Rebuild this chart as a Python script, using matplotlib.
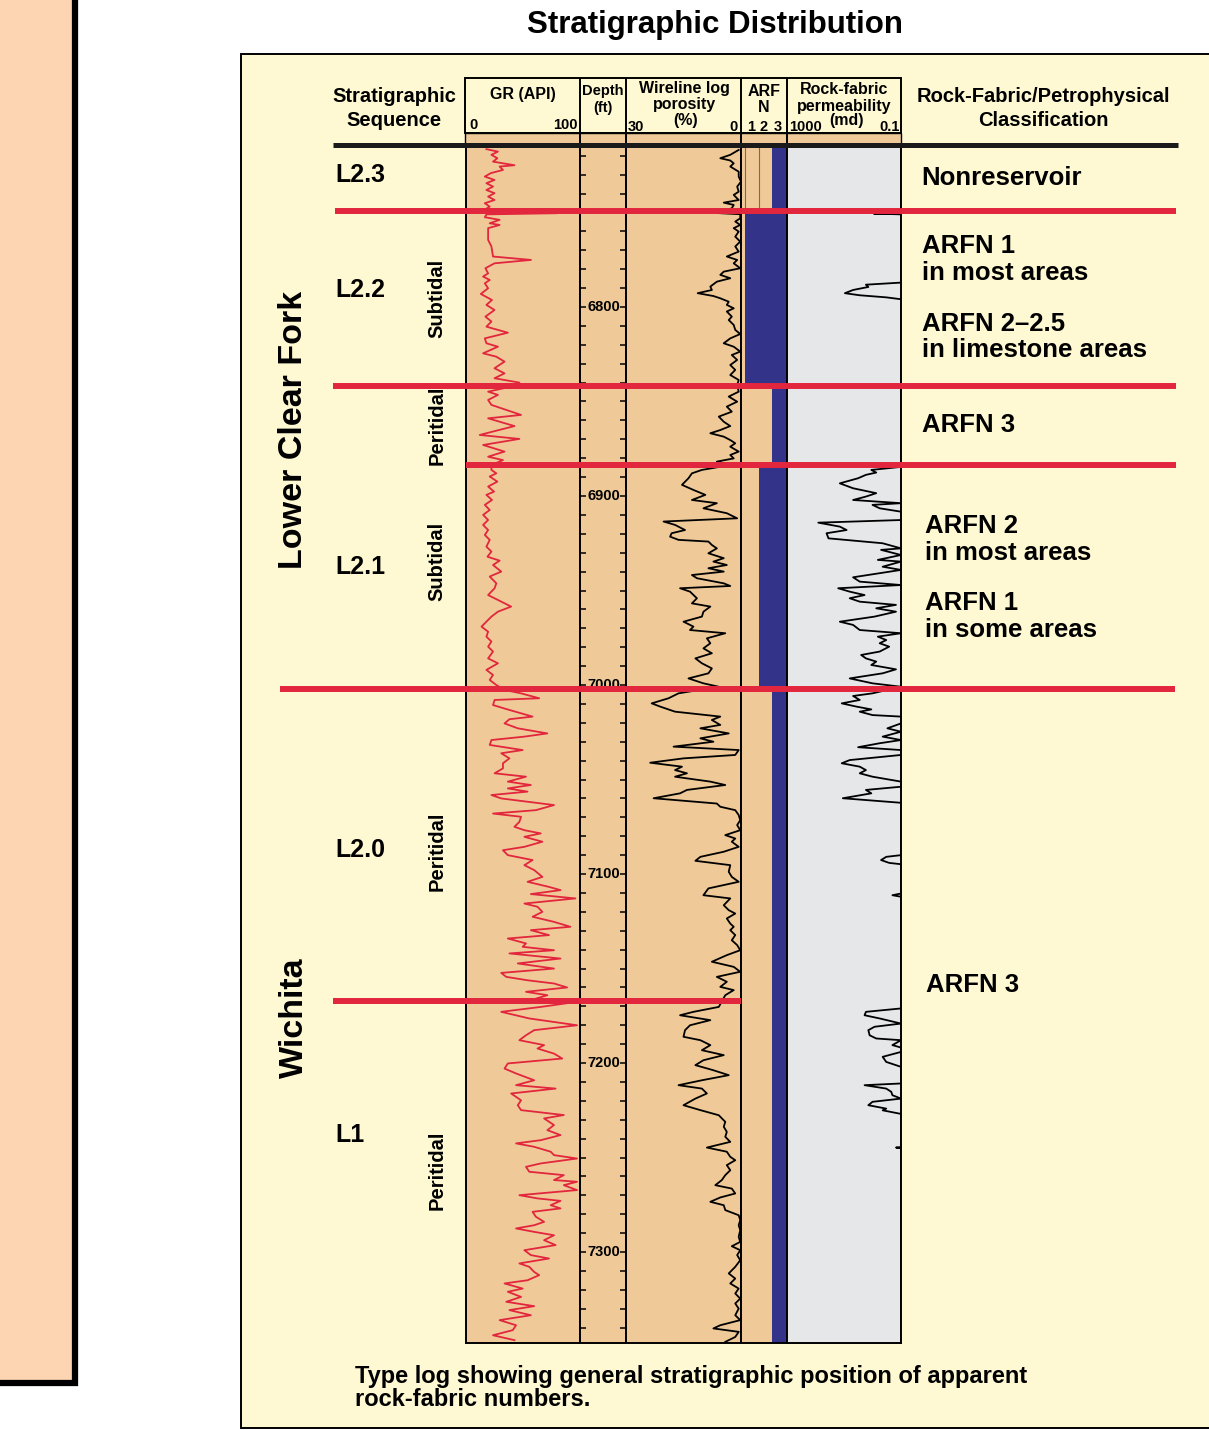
import matplotlib
matplotlib.use('Agg')
import matplotlib.pyplot as plt
from matplotlib.patches import Rectangle
import numpy as np

plt.rcParams['font.family'] = ['Liberation Sans', 'DejaVu Sans']
plt.rcParams['font.weight'] = 'bold'

W, H = 1209, 1430

# log depth window (ft)
log_top, log_base = 6714.3, 7348.1

# sequence boundaries (ft)
boundary_depth = [6749.2, 6841.8, 6883.6, 7002.1, 7167.2]

# apparent rock-fabric number by interval (interval tops, ft)
arfn_top = [6714.3, 6749.2, 6841.8, 6883.6, 7002.1]
arfn_value = [3, 1, 3, 2, 3]

depth_labels = [6800, 6900, 7000, 7100, 7200, 7300]

# gamma ray (API)
gr_depth = [6716.5, 6717.8, 6719.5, 6721.3, 6723.1, 6725.0, 6725.7, 6727.5, 6729.2, 6731.0,
            6732.8, 6734.5, 6736.3, 6738.1, 6739.8, 6741.6, 6743.4, 6745.1, 6746.9, 6748.3,
            6749.6, 6750.4, 6751.0, 6752.5, 6753.9, 6755.7, 6756.6, 6758.3, 6764.5, 6768.0,
            6773.3, 6775.1, 6776.9, 6779.5, 6782.2, 6783.9, 6785.7, 6787.5, 6790.1, 6793.1,
            6796.3, 6798.9, 6801.6, 6805.1, 6807.7, 6810.4, 6813.6, 6816.6, 6819.2, 6821.0,
            6824.5, 6826.3, 6828.9, 6832.4, 6835.1, 6837.7, 6840.0, 6842.1, 6844.8, 6846.5,
            6849.2, 6851.8, 6857.1, 6858.9, 6863.0, 6867.7, 6869.8, 6873.0, 6876.5, 6879.2,
            6881.0, 6883.6, 6886.2, 6888.0, 6889.7, 6892.4, 6895.0, 6897.7, 6899.4, 6902.1,
            6904.7, 6907.4, 6910.0, 6912.7, 6915.3, 6918.0, 6920.6, 6923.2, 6926.8, 6929.4,
            6932.1, 6934.2, 6936.5, 6940.0, 6942.6, 6946.2, 6948.8, 6952.4, 6955.9, 6958.5,
            6961.2, 6963.8, 6966.5, 6969.1, 6971.8, 6974.4, 6977.0, 6979.7, 6982.3, 6985.9,
            6988.5, 6992.0, 6994.7, 6997.3, 7000.0, 7002.6, 7004.4, 7007.0, 7007.9, 7010.6,
            7013.2, 7016.7, 7018.1, 7020.3, 7022.9, 7025.6, 7027.3, 7029.1, 7031.7, 7034.4,
            7036.1, 7038.8, 7041.4, 7044.1, 7046.7, 7048.5, 7051.1, 7052.9, 7054.7, 7056.4,
            7058.2, 7060.0, 7063.5, 7066.2, 7068.0, 7069.7, 7072.4, 7075.0, 7076.8, 7078.5,
            7080.3, 7082.9, 7085.6, 7087.4, 7090.0, 7092.6, 7095.3, 7097.9, 7101.5, 7104.1,
            7106.8, 7108.5, 7110.6, 7112.9, 7115.6, 7117.3, 7120.0, 7122.6, 7125.3, 7127.9,
            7129.7, 7132.3, 7134.1, 7136.7, 7138.5, 7140.3, 7142.0, 7144.7, 7147.3, 7150.0,
            7152.3, 7154.4, 7156.2, 7157.9, 7160.0, 7162.3, 7164.1, 7165.9, 7167.6, 7170.3,
            7172.9, 7176.4, 7180.0, 7182.6, 7185.3, 7187.9, 7190.5, 7192.3, 7195.0, 7197.6,
            7200.2, 7202.9, 7205.5, 7209.1, 7211.7, 7213.5, 7216.1, 7219.7, 7222.3, 7224.9,
            7227.5, 7229.3, 7232.8, 7235.5, 7238.1, 7240.8, 7242.5, 7244.3, 7246.9, 7248.7,
            7250.5, 7253.1, 7254.9, 7257.5, 7259.3, 7261.9, 7262.8, 7264.6, 7267.2, 7269.9,
            7271.6, 7272.9, 7275.2, 7276.9, 7278.7, 7281.3, 7284.0, 7285.8, 7287.5, 7289.3,
            7291.1, 7293.7, 7296.3, 7299.0, 7301.6, 7303.4, 7306.0, 7307.8, 7310.5, 7312.2,
            7314.9, 7316.6, 7319.3, 7321.0, 7323.7, 7326.3, 7328.6, 7330.7, 7333.4, 7336.0,
            7338.7, 7341.3, 7344.0, 7346.6]
gr_api = [17.9, 28.0, 22.3, 27.5, 23.7, 42.5, 29.5, 32.4, 21.7, 16.5,
          25.0, 17.9, 23.7, 17.9, 25.0, 19.4, 25.0, 16.5, 20.8, 17.0,
          17.0, 80.0, 18.0, 16.5, 29.5, 20.8, 29.5, 19.4, 19.4, 22.3,
          23.7, 57.0, 25.0, 17.0, 19.4, 15.0, 20.8, 16.5, 19.4, 13.0,
          22.8, 17.9, 25.0, 17.0, 22.3, 17.9, 36.7, 16.5, 17.9, 28.0,
          15.0, 26.6, 33.8, 25.0, 33.8, 25.0, 46.8, 39.6, 19.4, 28.0,
          19.4, 22.3, 48.3, 19.4, 42.5, 12.0, 46.8, 15.0, 33.8, 19.4,
          32.4, 22.3, 22.3, 26.6, 20.8, 27.5, 19.4, 24.6, 17.9, 22.8,
          16.5, 20.8, 15.0, 19.4, 15.0, 19.4, 16.5, 20.8, 17.9, 22.3,
          18.8, 29.5, 23.7, 30.9, 20.8, 26.6, 25.1, 19.4, 30.9, 39.6,
          28.0, 22.3, 17.9, 13.6, 19.4, 17.9, 22.3, 19.4, 23.7, 19.4,
          28.0, 17.9, 23.7, 20.8, 26.6, 33.8, 48.3, 64.2, 25.1, 23.7,
          38.1, 58.4, 38.1, 33.8, 45.4, 71.4, 51.2, 22.3, 20.8, 49.7,
          30.9, 38.1, 32.4, 32.4, 25.1, 52.6, 36.7, 56.9, 36.7, 54.0,
          22.3, 30.9, 77.2, 61.3, 23.7, 48.3, 46.8, 42.5, 51.2, 65.6,
          51.2, 67.0, 51.2, 32.4, 36.7, 58.4, 51.2, 59.8, 67.0, 54.0,
          72.8, 82.9, 56.9, 96.0, 51.2, 62.7, 67.0, 58.4, 77.2, 91.6,
          56.9, 72.8, 36.7, 52.6, 49.7, 77.2, 38.1, 82.9, 45.4, 77.2,
          30.9, 35.3, 54.0, 77.2, 88.7, 52.6, 71.4, 61.3, 97.4, 65.6,
          30.9, 55.5, 97.4, 59.8, 52.6, 46.8, 68.5, 62.7, 77.2, 84.4,
          36.7, 33.8, 43.9, 59.8, 43.9, 78.6, 39.6, 48.3, 45.4, 48.3,
          85.8, 68.5, 77.2, 71.4, 82.9, 65.6, 43.9, 59.8, 74.3, 77.2,
          97.4, 65.6, 52.6, 55.5, 85.8, 77.2, 97.4, 85.8, 97.4, 46.8,
          62.7, 82.9, 74.3, 82.9, 58.4, 61.3, 68.5, 59.8, 43.9, 59.8,
          77.2, 68.5, 78.6, 51.2, 56.9, 72.8, 46.8, 55.5, 59.8, 64.2,
          54.0, 33.8, 49.7, 36.7, 48.3, 35.3, 59.8, 38.1, 56.9, 29.5,
          43.9, 41.0, 23.7, 42.5]

# wireline log porosity (%)
phi_depth = [6716.9, 6719.5, 6721.3, 6722.5, 6724.0, 6725.7, 6728.4, 6731.0, 6733.7, 6736.3,
             6739.0, 6740.7, 6743.4, 6744.8, 6746.0, 6747.8, 6750.3, 6750.9, 6753.1, 6754.8,
             6756.6, 6758.3, 6760.1, 6762.8, 6765.4, 6768.0, 6770.7, 6773.3, 6775.1, 6776.9,
             6779.5, 6781.3, 6783.0, 6784.8, 6786.6, 6789.2, 6791.0, 6792.7, 6794.2, 6795.4,
             6797.2, 6798.9, 6800.7, 6802.4, 6805.1, 6806.9, 6809.5, 6812.1, 6814.3, 6816.6,
             6819.2, 6821.0, 6823.6, 6825.4, 6828.0, 6830.7, 6833.3, 6836.0, 6838.6, 6841.3,
             6844.8, 6847.4, 6850.1, 6852.7, 6855.4, 6858.0, 6860.7, 6863.0, 6865.1, 6866.8,
             6868.6, 6870.4, 6872.1, 6873.9, 6876.5, 6878.3, 6880.1, 6881.8, 6883.6, 6886.2,
             6888.0, 6890.6, 6894.1, 6896.8, 6899.4, 6902.1, 6903.8, 6906.5, 6909.1, 6911.8,
             6913.5, 6915.3, 6918.0, 6919.7, 6921.5, 6923.2, 6924.1, 6925.9, 6927.7, 6930.3,
             6932.9, 6934.7, 6936.5, 6938.2, 6940.0, 6941.8, 6943.5, 6946.2, 6947.6, 6948.8,
             6950.6, 6954.1, 6956.8, 6958.5, 6961.2, 6963.8, 6966.5, 6969.1, 6970.9, 6972.6,
             6975.3, 6977.9, 6980.6, 6983.2, 6985.9, 6988.5, 6991.2, 6993.8, 6996.5, 6999.1,
             7000.9, 7004.4, 7007.0, 7009.7, 7011.4, 7014.1, 7016.7, 7018.5, 7021.1, 7022.9,
             7025.6, 7028.2, 7030.0, 7032.6, 7034.4, 7037.0, 7038.8, 7041.1, 7043.2, 7045.0,
             7046.7, 7048.5, 7051.1, 7052.9, 7055.5, 7057.3, 7059.9, 7062.7, 7064.4, 7066.2,
             7068.8, 7071.5, 7074.1, 7076.8, 7079.4, 7081.2, 7082.9, 7085.6, 7088.2, 7090.9,
             7093.0, 7095.3, 7098.8, 7101.5, 7104.1, 7107.6, 7111.2, 7112.9, 7116.5, 7119.1,
             7120.9, 7123.5, 7126.2, 7127.9, 7129.7, 7132.3, 7135.0, 7137.6, 7140.3, 7142.9,
             7146.4, 7149.1, 7151.7, 7154.4, 7157.0, 7159.7, 7161.4, 7164.1, 7170.3, 7172.9,
             7174.7, 7177.3, 7180.0, 7182.6, 7186.1, 7187.9, 7190.5, 7193.2, 7195.8, 7198.5,
             7201.1, 7203.8, 7206.4, 7209.1, 7211.7, 7213.5, 7216.1, 7218.8, 7222.3, 7224.9,
             7227.6, 7231.1, 7233.7, 7236.4, 7239.0, 7241.7, 7244.7, 7246.9, 7249.6, 7251.4,
             7254.0, 7256.7, 7259.3, 7261.9, 7264.6, 7266.4, 7269.0, 7271.1, 7273.4, 7275.2,
             7277.8, 7280.5, 7283.1, 7285.8, 7288.4, 7291.9, 7294.6, 7296.9, 7299.0, 7301.6,
             7304.3, 7307.8, 7311.3, 7314.0, 7316.6, 7319.3, 7321.9, 7324.6, 7327.2, 7329.9,
             7333.4, 7336.0, 7338.7, 7340.4, 7342.2, 7344.9, 7347.5]
phi_pct = [0.6, 2.8, 5.4, 2.8, 1.9, 2.8, 0.6, 0.6, 0.0, 1.0,
           0.6, 1.9, 0.6, 4.5, 1.9, 2.4, 6.3, 0.2, 0.2, 1.5,
           0.2, 1.9, 0.6, 1.5, 0.2, 1.5, 0.6, 3.7, 1.0, 1.9,
           0.2, 4.5, 5.4, 2.8, 6.3, 8.0, 7.6, 11.3, 7.2, 5.4,
           3.2, 3.7, 1.9, 3.7, 2.4, 3.2, 1.9, 1.5, 0.2, 2.8,
           4.5, 1.9, 0.2, 2.4, 1.0, 2.8, 1.5, 2.8, 0.6, 1.0,
           0.6, 3.2, 1.0, 3.7, 2.4, 5.8, 4.5, 2.8, 5.4, 8.0,
           4.5, 2.8, 1.5, 2.8, 0.6, 2.8, 1.9, 6.3, 2.8, 10.2,
           12.8, 13.7, 15.4, 12.4, 9.3, 12.8, 6.3, 9.8, 3.7, 1.0,
           20.2, 17.2, 14.6, 18.1, 18.5, 16.3, 8.5, 7.6, 6.3, 8.5,
           4.5, 7.2, 3.7, 8.5, 4.5, 12.8, 11.5, 4.5, 2.8, 15.9,
           13.3, 11.5, 12.8, 8.0, 9.8, 10.2, 15.0, 12.4, 13.3, 4.1,
           8.9, 8.0, 9.8, 7.6, 11.9, 10.2, 7.6, 8.5, 13.7, 9.8,
           5.8, 16.3, 18.9, 23.3, 21.1, 17.2, 5.4, 7.6, 5.4, 10.6,
           3.2, 10.6, 7.2, 17.6, 0.6, 1.5, 15.0, 23.7, 15.4, 17.2,
           14.1, 17.2, 8.0, 4.1, 14.1, 15.9, 22.8, 6.3, 5.4, 1.5,
           0.6, 0.2, 1.0, 0.2, 4.1, 1.5, 2.4, 0.6, 4.5, 10.6,
           11.9, 2.8, 3.2, 2.4, 0.6, 8.5, 9.8, 2.8, 4.5, 3.2,
           1.5, 3.7, 2.8, 1.9, 2.8, 1.5, 2.4, 1.0, 0.2, 3.7,
           7.6, 1.9, 0.2, 6.3, 3.7, 5.4, 1.9, 4.1, 5.8, 12.4,
           15.9, 8.0, 13.3, 14.6, 15.0, 10.6, 8.0, 10.2, 4.5, 9.8,
           11.9, 7.2, 3.2, 10.2, 16.3, 10.2, 8.9, 11.9, 15.0, 10.6,
           5.8, 4.1, 4.5, 3.7, 4.1, 2.8, 8.9, 3.7, 2.8, 1.5,
           3.7, 2.8, 4.1, 5.0, 6.7, 2.4, 1.5, 5.4, 8.0, 4.5,
           4.1, 0.6, 0.2, 0.6, 0.2, 0.6, 0.2, 2.4, 0.2, 1.0,
           0.2, 1.5, 3.2, 1.5, 2.8, 0.6, 1.5, 0.2, 1.5, 0.6,
           1.5, 0.2, 5.4, 7.2, 0.6, 1.5, 4.1]

# rock-fabric permeability (md)
perm_depth = [6714.3, 6750.3, 6750.6, 6751.0, 6787.1, 6788.2, 6789.4, 6791.0, 6792.7, 6793.8,
              6794.9, 6795.9, 6884.6, 6886.2, 6887.6, 6888.8, 6890.6, 6893.3, 6895.9, 6898.5,
              6900.3, 6902.1, 6903.8, 6904.7, 6906.5, 6908.3, 6912.7, 6914.1, 6916.2, 6918.0,
              6919.7, 6922.4, 6925.0, 6927.7, 6928.5, 6931.2, 6933.8, 6934.7, 6937.4, 6939.1,
              6943.0, 6945.3, 6947.1, 6948.8, 6950.6, 6952.4, 6954.1, 6955.9, 6957.6, 6959.4,
              6961.2, 6963.8, 6966.5, 6968.2, 6970.9, 6972.6, 6974.4, 6976.2, 6977.9, 6979.7,
              6982.3, 6984.1, 6985.9, 6987.6, 6989.4, 6991.7, 6993.8, 6996.5, 6999.1, 7000.9,
              7004.4, 7005.8, 7007.9, 7009.7, 7011.4, 7012.9, 7014.1, 7015.9, 7016.7, 7020.3,
              7022.9, 7024.7, 7027.3, 7029.1, 7030.8, 7032.9, 7034.4, 7037.0, 7039.7, 7041.4,
              7043.2, 7045.0, 7046.7, 7048.5, 7051.1, 7053.8, 7055.5, 7057.3, 7059.9, 7062.3,
              7090.0, 7090.9, 7092.6, 7094.1, 7094.8, 7110.3, 7111.2, 7112.0, 7171.1, 7172.9,
              7174.7, 7176.4, 7179.1, 7180.8, 7182.6, 7185.3, 7187.0, 7187.9, 7190.5, 7191.8,
              7194.1, 7196.7, 7199.4, 7202.0, 7210.8, 7211.7, 7213.5, 7215.2, 7217.0, 7218.8,
              7220.5, 7222.3, 7224.1, 7225.0, 7226.9, 7244.4, 7244.7, 7245.1, 7348.1]
perm_md = [0.1, 0.1, 0.9, 0.1, 0.1, 1.7, 1.4, 4.8, 9.3, 2.8,
           0.33, 0.1, 0.1, 1.1, 0.74, 1.7, 3.2, 14, 4.8, 0.74,
           1.7, 4.8, 0.1, 1.0, 0.56, 0.1, 0.1, 80, 14, 8.1,
           41, 35, 0.44, 0.1, 0.5, 0.1, 0.65, 0.1, 0.44, 0.1,
           4.8, 2.8, 0.1, 16, 6.3, 1.9, 6.3, 2.8, 0.15, 0.74,
           0.15, 0.85, 14, 4.8, 2.8, 0.1, 0.65, 0.33, 0.56, 0.26,
           0.56, 2.5, 1.7, 0.74, 1.1, 0.15, 0.44, 6.3, 1.0, 0.1,
           1.0, 4.8, 2.8, 12, 3.7, 1.1, 2.8, 1.0, 0.1, 0.1,
           0.3, 0.1, 0.44, 0.1, 0.56, 3.2, 0.1, 0.1, 6.3, 12,
           2.8, 1.7, 2.8, 1.0, 0.1, 0.1, 1.7, 1.1, 11, 0.1,
           0.1, 0.33, 0.5, 0.26, 0.1, 0.1, 0.2, 0.1, 0.1, 1.7,
           1.9, 0.56, 0.1, 0.85, 1.4, 1.26, 0.74, 0.1, 0.2, 0.1,
           0.1, 0.44, 0.33, 0.1, 0.1, 1.9, 0.33, 0.22, 0.2, 0.1,
           1.0, 1.4, 0.33, 0.44, 0.1, 0.1, 0.15, 0.1, 0.1]

PANEL = '#FEF9D3'
LEFT_BOX = '#FDD5B2'
TRACK = '#EFCA98'
GREY = '#E6E7E9'
BLUE = '#33338A'
RED = '#E2263D'


def rect_px(x0, x1, y0, y1):
    return [x0 / W, 1 - y1 / H, (x1 - x0) / W, (y1 - y0) / H]


fig = plt.figure(figsize=(W / 100, H / 100), dpi=100)

# background layer in pixel units
bg = fig.add_axes([0, 0, 1, 1], zorder=0)
bg.set_xlim(0, W)
bg.set_ylim(H, 0)
bg.axis('off')
bg.add_patch(Rectangle((-10, -10), 85, 1393, facecolor=LEFT_BOX, edgecolor='black', lw=4.5))
bg.add_patch(Rectangle((241, 54), 1000, 1374, facecolor=PANEL, edgecolor='black', lw=1.4))
bg.add_patch(Rectangle((465, 78), 436, 55, facecolor=PANEL, edgecolor='black', lw=1.4))
bg.add_patch(Rectangle((465, 133), 436, 12, facecolor=TRACK, edgecolor='black', lw=1.0))
bg.vlines([580, 626, 741, 787], 78, 145, color='black', lw=1.4)

bg.text(715, 25, 'Stratigraphic Distribution', ha='center', va='center', fontsize=22.5)

# column headings
bg.text(394, 97, 'Stratigraphic', ha='center', va='center', fontsize=14.5)
bg.text(394, 121, 'Sequence', ha='center', va='center', fontsize=14.5)
bg.text(1043, 97, 'Rock-Fabric/Petrophysical', ha='center', va='center', fontsize=14.5)
bg.text(1043, 121, 'Classification', ha='center', va='center', fontsize=14.5)

bg.text(523, 95, 'GR (API)', ha='center', va='center', fontsize=11.5)
bg.text(469, 125, '0', ha='left', va='center', fontsize=10.5)
bg.text(578, 125, '100', ha='right', va='center', fontsize=10.5)
bg.text(603, 91, 'Depth', ha='center', va='center', fontsize=10.5)
bg.text(603, 108, '(ft)', ha='center', va='center', fontsize=10.5)
bg.text(684, 89, 'Wireline log', ha='center', va='center', fontsize=11.5)
bg.text(684, 105, 'porosity', ha='center', va='center', fontsize=11.5)
bg.text(686, 121, '(%)', ha='center', va='center', fontsize=11.5)
bg.text(628, 127, '30', ha='left', va='center', fontsize=10.5)
bg.text(738, 127, '0', ha='right', va='center', fontsize=10.5)
bg.text(764, 92, 'ARF', ha='center', va='center', fontsize=11.5)
bg.text(764, 108, 'N', ha='center', va='center', fontsize=11.5)
for xp, lab in zip([751, 764, 778], ['1', '2', '3']):
    bg.text(xp, 127, lab, ha='center', va='center', fontsize=10.5)
bg.text(844, 90, 'Rock-fabric', ha='center', va='center', fontsize=11.5)
bg.text(844, 106, 'permeability', ha='center', va='center', fontsize=11.5)
bg.text(847, 121, '(md)', ha='center', va='center', fontsize=11.5)
bg.text(789, 127, '1000', ha='left', va='center', fontsize=10.5)
bg.text(900, 127, '0.1', ha='right', va='center', fontsize=10.5)

# caption
bg.text(355, 1377, 'Type log showing general stratigraphic position of apparent',
        ha='left', va='center', fontsize=17)
bg.text(355, 1400, 'rock-fabric numbers.', ha='left', va='center', fontsize=17)

# stratigraphic labels
bg.text(294, 430, 'Lower Clear Fork', rotation=90, ha='center', va='center', fontsize=24.5)
bg.text(294, 1018, 'Wichita', rotation=90, ha='center', va='center', fontsize=24.5)
for yp, lab in zip([175, 290, 567, 850, 1135], ['L2.3', 'L2.2', 'L2.1', 'L2.0', 'L1']):
    bg.text(335, yp, lab, ha='left', va='center', fontsize=18)
for yp, lab in zip([298, 425, 561, 851, 1170],
                   ['Subtidal', 'Peritidal', 'Subtidal', 'Peritidal', 'Peritidal']):
    bg.text(437, yp, lab, rotation=90, ha='center', va='center', fontsize=14.5)

# rock-fabric classification notes
notes = [(921, 178, 'Nonreservoir'),
         (922, 246, 'ARFN 1'), (922, 273, 'in most areas'),
         (922, 324, 'ARFN 2\u20132.5'), (922, 350, 'in limestone areas'),
         (922, 425, 'ARFN 3'),
         (925, 526, 'ARFN 2'), (925, 553, 'in most areas'),
         (925, 603, 'ARFN 1'), (925, 630, 'in some areas'),
         (926, 985, 'ARFN 3')]
for xp, yp, lab in notes:
    bg.text(xp, yp, lab, ha='left', va='center', fontsize=18.5)


def track(x0, x1, face):
    ax = fig.add_axes(rect_px(x0, x1, 145, 1343), zorder=1)
    ax.set_facecolor(face)
    ax.set_ylim(log_base, log_top)
    ax.set_xticks([])
    ax.set_yticks([])
    for s in ax.spines.values():
        s.set_linewidth(1.4)
    return ax


# gamma ray
ax_gr = track(466, 580, TRACK)
ax_gr.set_xlim(0, 100)
ax_gr.plot(gr_api, gr_depth, color=RED, lw=1.3)

# depth column
ax_d = track(580, 626, TRACK)
ax_d.set_xlim(0, 1)
ax_d.set_yticks(np.arange(6720, 7341, 10))
ax_d.tick_params(axis='y', direction='in', length=4.5, width=1.1, left=True, right=True,
                 labelleft=False, labelright=False)
for d in depth_labels:
    ax_d.text(0.52, d, str(d), ha='center', va='center', fontsize=10.5)

# porosity
ax_p = track(626, 741, TRACK)
ax_p.set_xlim(30, 0)
ax_p.plot(phi_pct, phi_depth, color='black', lw=1.3)

# ARFN
ax_a = track(741, 787, TRACK)
ax_a.set_xlim(0.7, 4.1)
arfn_base = arfn_top[1:] + [log_base]
for t, b, v in zip(arfn_top, arfn_base, arfn_value):
    ax_a.fill_betweenx([t, b], v, 4.1, color=BLUE, lw=0)
ax_a.vlines([1, 2], arfn_top[0], arfn_base[0], color='#7d6b58', lw=0.8)

# permeability
ax_k = track(787, 901, GREY)
ax_k.set_xscale('log')
ax_k.set_xlim(1000, 0.1)
ax_k.set_xticks([])
ax_k.minorticks_off()
ax_k.plot(perm_md, perm_depth, color='black', lw=1.3)

# sequence boundaries over the log tracks
strat = fig.add_axes(rect_px(0, W, 145, 1343), zorder=3)
strat.set_xlim(0, W)
strat.set_ylim(log_base, log_top)
strat.axis('off')
line_span = [(335, 1176), (333, 1176), (466, 1176), (280, 1175), (333, 741)]
for d, (x0, x1) in zip(boundary_depth, line_span):
    strat.hlines(d, x0, x1, color=RED, lw=4.3)

fg = fig.add_axes([0, 0, 1, 1], zorder=4)
fg.set_xlim(0, W)
fg.set_ylim(H, 0)
fg.axis('off')
fg.hlines(145, 333, 1178, color='#1a1a1a', lw=3.6)

fig.savefig('out.png', dpi=100)
